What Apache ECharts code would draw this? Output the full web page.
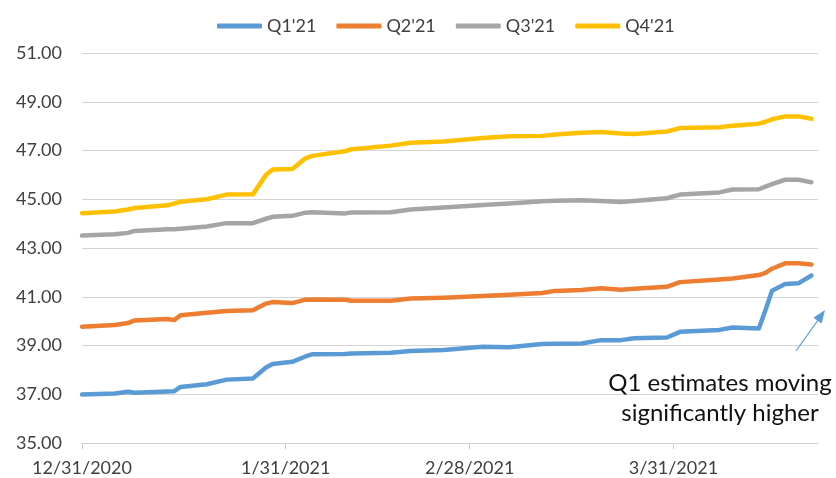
<!DOCTYPE html>
<html>
<head>
<meta charset="utf-8">
<script src="https://cdn.jsdelivr.net/npm/echarts@6/dist/echarts.min.js"></script>
<style>
  html, body { margin: 0; padding: 0; background: #fff; }
  #chart { width: 836px; height: 478px; }
</style>
</head>
<body>
<div id="chart"></div>
<script>
// sample dates
var dates = ['2020-12-31', '2021-01-05', '2021-01-07', '2021-01-08', '2021-01-13', '2021-01-14',
  '2021-01-15', '2021-01-19', '2021-01-22', '2021-01-26', '2021-01-28', '2021-01-29',
  '2021-02-01', '2021-02-03', '2021-02-04', '2021-02-09', '2021-02-10', '2021-02-16',
  '2021-02-19', '2021-02-24', '2021-03-02', '2021-03-06', '2021-03-11', '2021-03-13',
  '2021-03-17', '2021-03-20', '2021-03-23', '2021-03-25', '2021-03-30', '2021-04-01',
  '2021-04-07', '2021-04-09', '2021-04-13', '2021-04-14', '2021-04-15', '2021-04-17',
  '2021-04-19', '2021-04-21'];

var q1 = [36.99, 37.03, 37.10, 37.06, 37.11, 37.12, 37.30, 37.41, 37.60, 37.65, 38.10, 38.24,
  38.33, 38.55, 38.64, 38.65, 38.67, 38.70, 38.77, 38.82, 38.95, 38.93, 39.06, 39.07,
  39.08, 39.22, 39.22, 39.30, 39.33, 39.56, 39.64, 39.74, 39.70, 40.45, 41.25, 41.52,
  41.55, 41.87];
var q2 = [39.77, 39.84, 39.92, 40.03, 40.09, 40.04, 40.24, 40.34, 40.42, 40.45, 40.72, 40.78,
  40.74, 40.88, 40.89, 40.88, 40.84, 40.84, 40.93, 40.96, 41.03, 41.08, 41.15, 41.24,
  41.28, 41.35, 41.29, 41.33, 41.41, 41.60, 41.71, 41.75, 41.89, 41.98, 42.15, 42.37,
  42.37, 42.32];
var q3 = [43.51, 43.56, 43.62, 43.70, 43.77, 43.77, 43.79, 43.88, 44.02, 44.02, 44.20, 44.28,
  44.32, 44.45, 44.47, 44.42, 44.46, 44.47, 44.58, 44.66, 44.76, 44.83, 44.92, 44.94,
  44.96, 44.93, 44.89, 44.93, 45.04, 45.19, 45.28, 45.40, 45.41, 45.52, 45.62, 45.80,
  45.80, 45.70];
var q4 = [44.43, 44.50, 44.58, 44.64, 44.75, 44.82, 44.90, 45.00, 45.19, 45.20, 46.00, 46.22,
  46.24, 46.68, 46.78, 46.97, 47.05, 47.20, 47.32, 47.37, 47.51, 47.58, 47.60, 47.66,
  47.73, 47.76, 47.70, 47.68, 47.78, 47.92, 47.95, 48.02, 48.10, 48.18, 48.28, 48.40,
  48.40, 48.30];

var seriesNames = ["Q1'21", "Q2'21", "Q3'21", "Q4'21"];
var seriesColors = ['#5B9BD5', '#ED7D31', '#A5A5A5', '#FFC000'];
var tickDates = ['2020-12-31', '2021-01-31', '2021-02-28', '2021-03-31'];
var startDate = '2020-12-31', endDate = '2021-04-22';

var DAY = 86400000;
function toTime(s) {
  var p = s.split('-');
  return Date.UTC(+p[0], +p[1] - 1, +p[2]);
}
// x axis runs in days since the first date
function toDay(s) { return Math.round((toTime(s) - toTime(startDate)) / DAY); }
function dayLabel(n) {
  var d = new Date(toTime(startDate) + n * DAY);
  return (d.getUTCMonth() + 1) + '/' + d.getUTCDate() + '/' + d.getUTCFullYear();
}
function pairs(vals) {
  return dates.map(function (d, i) { return [toDay(d), vals[i]]; });
}

var chart = echarts.init(document.getElementById('chart'));
var font = 'Lato, "Open Sans", sans-serif';
var tickDays = tickDates.map(toDay);

var option = {
  animation: false,
  textStyle: { fontFamily: font },
  legend: {
    data: seriesNames,
    left: 212,
    top: 12,
    icon: 'roundRect',
    itemWidth: 45,
    itemHeight: 5,
    itemGap: 20,
    textStyle: { fontSize: 18, color: '#404040', fontFamily: font }
  },
  grid: { left: 82, right: 18, top: 53, bottom: 35, containLabel: false },
  xAxis: {
    type: 'value',
    min: 0,
    max: toDay(endDate),
    axisLine: { show: true, lineStyle: { color: '#d0d0d0', width: 1 } },
    axisTick: { show: true, length: 6, lineStyle: { color: '#d0d0d0' }, customValues: tickDays },
    axisLabel: {
      customValues: tickDays,
      fontSize: 18,
      color: '#404040',
      margin: 16,
      fontFamily: font,
      formatter: function (v) { return dayLabel(v); }
    },
    splitLine: { show: false }
  },
  yAxis: {
    type: 'value',
    min: 35,
    max: 51,
    interval: 2,
    axisLine: { show: false },
    axisTick: { show: false },
    axisLabel: {
      fontSize: 18,
      color: '#404040',
      margin: 20,
      fontFamily: font,
      formatter: function (v) { return v.toFixed(2); }
    },
    splitLine: { lineStyle: { color: '#d4d4d4', width: 1 } }
  },
  series: [q1, q2, q3, q4].map(function (vals, i) {
    return {
      name: seriesNames[i],
      type: 'line',
      data: pairs(vals),
      showSymbol: false,
      symbol: 'none',
      color: seriesColors[i],
      lineStyle: { width: 4.5, color: seriesColors[i], cap: 'round', join: 'round' }
    };
  }),
  graphic: [
    {
      type: 'text',
      x: 720,
      y: 368,
      style: {
        text: 'Q1 estimates moving\nsignificantly higher',
        align: 'center',
        verticalAlign: 'top',
        fill: '#111111',
        fontSize: 24,
        lineHeight: 30,
        fontFamily: font
      },
      z: 10
    },
    {
      type: 'line',
      shape: { x1: 796, y1: 351, x2: 818, y2: 320 },
      style: { stroke: '#5B9BD5', lineWidth: 1.2 },
      z: 10
    },
    {
      type: 'polygon',
      shape: { points: [[825, 310], [821.6, 323.5], [813.4, 317.7]] },
      style: { fill: '#5B9BD5' },
      z: 10
    }
  ]
};
chart.setOption(option);
</script>
</body>
</html>
